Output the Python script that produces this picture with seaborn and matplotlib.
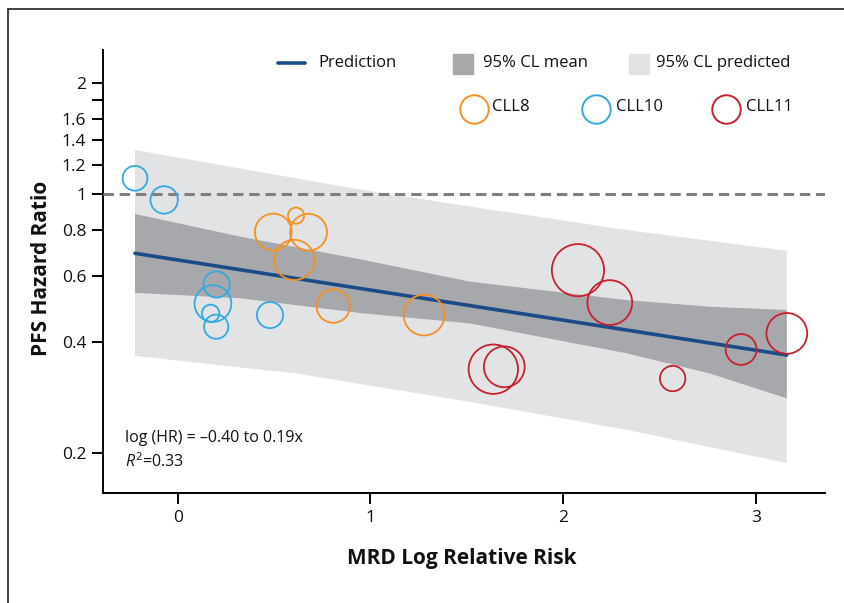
import numpy as np
import pandas as pd
import matplotlib
matplotlib.use("Agg")
import matplotlib.pyplot as plt
from matplotlib.lines import Line2D
from matplotlib.ticker import FixedLocator, FixedFormatter, NullLocator
import seaborn as sns

# ---------------- data ----------------
trial = ["CLL10"] * 7 + ["CLL8"] * 6 + ["CLL11"] * 7
mrd_x = [-0.221, -0.070, 0.202, 0.183, 0.171, 0.200, 0.479,
         0.496, 0.614, 0.679, 0.605, 0.807, 1.278,
         2.076, 2.241, 1.637, 1.694, 2.567, 2.922, 3.159]
pfs_hr = [1.105, 0.966, 0.571, 0.507, 0.477, 0.439, 0.472,
          0.791, 0.876, 0.790, 0.665, 0.499, 0.472,
          0.624, 0.510, 0.337, 0.342, 0.318, 0.381, 0.421]
radius_px = [13.0, 14.3, 13.7, 19.0, 9.3, 12.7, 13.7,
             19.0, 8.7, 19.0, 20.7, 17.3, 21.0,
             26.7, 23.0, 25.3, 21.0, 13.3, 16.0, 21.0]

pred_x = [-0.221, 3.159]
pred_hr = [0.693, 0.368]

mean_up_x = [-0.221, 0.323, 0.963, 1.516, 2.329, 2.761, 3.159]
mean_up_hr = [0.885, 0.769, 0.665, 0.581, 0.518, 0.497, 0.487]
mean_lo_x = [-0.221, 0.323, 0.963, 1.516, 2.329, 2.761, 3.159]
mean_lo_hr = [0.542, 0.524, 0.477, 0.448, 0.372, 0.328, 0.281]

pred_up_x = [-0.221, 0.963, 1.464, 2.329, 3.159]
pred_up_hr = [1.318, 1.027, 0.936, 0.801, 0.704]
pred_lo_x = [-0.221, 0.617, 1.516, 2.329, 3.159]
pred_lo_hr = [0.366, 0.328, 0.275, 0.231, 0.188]

y_ticks = [0.2, 0.4, 0.6, 0.8, 1.0, 1.2, 1.4, 1.6, 1.8, 2.0]
y_tick_labels = ["0.2", "0.4", "0.6", "0.8", "1", "1.2", "1.4", "1.6", "", "2"]
x_ticks = [0, 1, 2, 3]
x_tick_labels = ["0", "1", "2", "3"]

colors = {"CLL8": "#F39121", "CLL10": "#33A9E0", "CLL11": "#C8202F"}
line_color = "#1B4C87"
dark_band = "#A7A8AB"
light_band = "#E2E3E5"

# ---------------- style ----------------
sns.set_style("ticks")
FONT = "Open Sans"
plt.rcParams["font.family"] = [FONT, "DejaVu Sans"]
plt.rcParams["mathtext.fontset"] = "custom"
plt.rcParams["mathtext.rm"] = FONT
plt.rcParams["mathtext.it"] = FONT + ":italic"

W, H = 845, 603
fig = plt.figure(figsize=(W / 100, H / 100), dpi=100)
ax = fig.add_axes([103 / W, 110 / H, 722 / W, 443 / H])

df = pd.DataFrame({"x": mrd_x, "hr": pfs_hr, "trial": trial,
                   "area": [(1.44 * (r - 0.6)) ** 2 for r in radius_px]})

# bands
band_px = list(pred_up_x) + list(pred_lo_x[::-1])
band_py = list(pred_up_hr) + list(pred_lo_hr[::-1])
ax.fill(band_px, band_py, color=light_band, lw=0, zorder=1)
band_mx = list(mean_up_x) + list(mean_lo_x[::-1])
band_my = list(mean_up_hr) + list(mean_lo_hr[::-1])
ax.fill(band_mx, band_my, color=dark_band, lw=0, zorder=2)

ax.axhline(1.0, color="#7F7F7F", lw=2.2, dashes=(3.4, 1.9), zorder=3)

sns.lineplot(x=pred_x, y=pred_hr, ax=ax, color=line_color, lw=2.6, zorder=4)

amin, amax = df["area"].min(), df["area"].max()
sns.scatterplot(data=df, x="x", y="hr", hue="trial", palette=colors,
                size="area", sizes=(amin, amax), size_norm=(amin, amax),
                legend=False, ax=ax, zorder=5)
pts = ax.collections[-1]
fc = pts.get_facecolors()
pts.set_edgecolors(fc)
pts.set_facecolors("none")
pts.set_linewidths(1.3)

ax.set_yscale("log")
ax.set_xlim(-0.387, 3.357)
ax.set_ylim(0.156, 2.455)
ax.yaxis.set_major_locator(FixedLocator(y_ticks))
ax.yaxis.set_major_formatter(FixedFormatter(y_tick_labels))
ax.yaxis.set_minor_locator(NullLocator())
ax.set_xticks(x_ticks)
ax.set_xticklabels(x_tick_labels)

for s in ["top", "right"]:
    ax.spines[s].set_visible(False)
for s in ["left", "bottom"]:
    ax.spines[s].set_linewidth(1.4)
    ax.spines[s].set_color("black")
ax.tick_params(axis="both", length=8, width=1.4, color="black",
               labelsize=12.5, labelcolor="#111111", pad=4)

ax.set_xlabel("MRD Log Relative Risk", fontsize=15, fontweight="bold", color="#111111")
ax.set_ylabel("PFS Hazard Ratio", fontsize=15, fontweight="bold", color="#111111")
ax.xaxis.set_label_coords((462 - 103) / 722, (493 - 548) / 443)
ax.yaxis.set_label_coords((52 - 103) / 722, (493 - 268) / 443)

ax.text((125 - 103) / 722, (493 - 438) / 443, "log (HR) = \u20130.40 to 0.19x",
        transform=ax.transAxes, fontsize=11.5, va="center", ha="left", color="#111111")
ax.text((125 - 103) / 722, (493 - 462) / 443, r"$R^2$=0.33",
        transform=ax.transAxes, fontsize=11.5, va="center", ha="left", color="#111111")

# ---------------- legend (figure coords from pixel positions) ----------------
def fx(px):
    return px / W

def fy(py):
    return 1 - py / H

fig.add_artist(Line2D([fx(278), fx(305)], [fy(63), fy(63)], color=line_color, lw=2.6))
fig.text(fx(318), fy(63), "Prediction", fontsize=12, va="center", ha="left", color="#111111")
fig.add_artist(Line2D([fx(463)], [fy(63.5)], marker="s", markersize=13.7, color=dark_band, lw=0))
fig.text(fx(483), fy(63), "95% CL mean", fontsize=12, va="center", ha="left", color="#111111")
fig.add_artist(Line2D([fx(639)], [fy(63.5)], marker="s", markersize=13.7, color=light_band, lw=0))
fig.text(fx(656), fy(63), "95% CL predicted", fontsize=12, va="center", ha="left", color="#111111")

for name, cx, tx in [("CLL8", 474, 492), ("CLL10", 595.7, 616), ("CLL11", 726, 746)]:
    fig.add_artist(Line2D([fx(cx)], [fy(109)], marker="o", markersize=20.5,
                          markerfacecolor="none", markeredgecolor=colors[name],
                          markeredgewidth=1.4, lw=0))
    fig.text(fx(tx), fy(107), name, fontsize=12, va="center", ha="left", color="#111111")

# outer frame (top and left edges)
fig.add_artist(Line2D([fx(8), fx(845)], [fy(9), fy(9)], color="#222222", lw=1.2))
fig.add_artist(Line2D([fx(8), fx(8)], [fy(9), fy(603)], color="#222222", lw=1.2))

fig.savefig("out.png", dpi=100)
